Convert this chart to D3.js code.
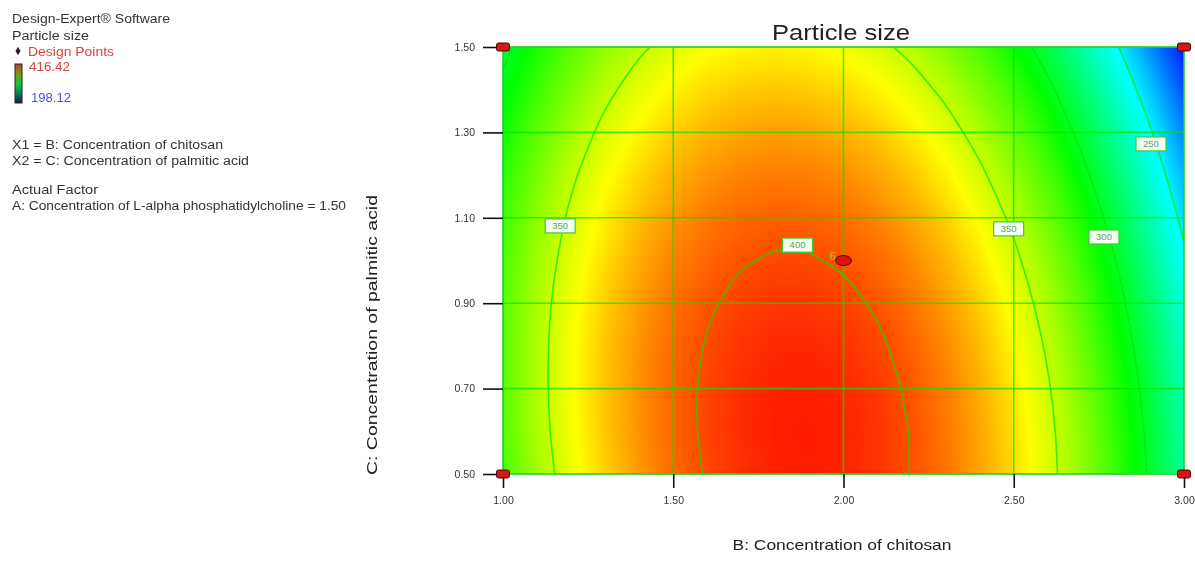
<!DOCTYPE html>
<html>
<head>
<meta charset="utf-8">
<script src="https://cdn.jsdelivr.net/npm/d3@7"></script>
<style>
  html, body { margin: 0; padding: 0; background: #fff; }
  #chart { position: relative; width: 1195px; height: 565px; overflow: hidden; background: #fff; }
  #chart canvas, #chart svg { position: absolute; left: 0; top: 0; }
</style>
</head>
<body>
<div id="chart"></div>
<script>
// ---- Data -------------------------------------------------------------
// Factor levels of the prediction grid
const chitosanLevels = [1.0, 1.1, 1.2, 1.3, 1.4, 1.5, 1.6, 1.7, 1.8, 1.9, 2.0,
                        2.1, 2.2, 2.3, 2.4, 2.5, 2.6, 2.7, 2.8, 2.9, 3.0];
const palmiticLevels = [0.5, 0.6, 0.7, 0.8, 0.9, 1.0, 1.1, 1.2, 1.3, 1.4, 1.5];

// Predicted particle size, one row per palmitic acid level (0.50 → 1.50),
// one value per chitosan level (1.00 → 3.00)
const particleSize = [
  [323.1, 341.6, 357.8, 371.9, 383.8, 393.5, 401.0, 406.2, 409.3, 410.2, 408.9, 405.4, 399.6, 391.7, 381.6, 369.3, 354.8, 338.0, 319.1, 298.0, 274.7],
  [325.5, 343.8, 359.8, 373.7, 385.3, 394.8, 402.1, 407.1, 410.0, 410.6, 409.1, 405.4, 399.4, 391.3, 380.9, 368.4, 353.7, 336.7, 317.6, 296.2, 272.7],
  [326.8, 344.8, 360.6, 374.3, 385.7, 395.0, 402.0, 406.8, 409.5, 409.9, 408.2, 404.2, 398.0, 389.7, 379.1, 366.4, 351.4, 334.2, 314.9, 293.3, 269.6],
  [326.9, 344.7, 360.3, 373.7, 385.0, 394.0, 400.8, 405.4, 407.8, 408.1, 406.1, 401.9, 395.5, 386.9, 376.2, 363.2, 348.0, 330.6, 311.0, 289.3, 265.3],
  [325.9, 343.5, 358.9, 372.1, 383.1, 391.9, 398.5, 402.9, 405.1, 405.1, 402.9, 398.5, 391.9, 383.1, 372.1, 358.9, 343.5, 325.9, 306.1, 284.1, 259.9],
  [323.7, 341.1, 356.2, 369.2, 380.0, 388.6, 395.0, 399.1, 401.1, 400.9, 398.5, 393.9, 387.0, 378.0, 366.8, 353.4, 337.8, 319.9, 299.9, 277.7, 253.3],
  [320.4, 337.5, 352.5, 365.3, 375.8, 384.2, 390.3, 394.3, 396.1, 395.6, 393.0, 388.1, 381.1, 371.9, 360.4, 346.8, 330.9, 312.9, 292.7, 270.2, 245.6],
  [315.9, 332.9, 347.6, 360.1, 370.5, 378.6, 384.6, 388.3, 389.8, 389.2, 386.3, 381.3, 374.0, 364.5, 352.9, 339.0, 323.0, 304.7, 284.2, 261.6, 236.7],
  [310.3, 327.0, 341.5, 353.9, 364.0, 371.9, 377.6, 381.1, 382.5, 381.6, 378.5, 373.2, 365.7, 356.1, 344.2, 330.1, 313.8, 295.3, 274.7, 251.8, 226.7],
  [303.6, 320.1, 334.4, 346.5, 356.4, 364.1, 369.6, 372.9, 374.0, 372.9, 369.6, 364.1, 356.4, 346.5, 334.4, 320.1, 303.6, 284.9, 264.0, 240.9, 215.6],
  [295.7, 311.9, 326.0, 337.9, 347.6, 355.1, 360.3, 363.4, 364.3, 363.0, 359.5, 353.7, 345.8, 335.7, 323.4, 308.9, 292.1, 273.2, 252.1, 228.8, 203.3]
];

const responseRange = [198.12, 416.42];
const contourLevels = [250, 300, 350, 400];
// Where each contour value is printed (chitosan, palmitic acid)
const contourLabels = [
  { level: 350, b: 1.168, c: 1.081 },
  { level: 400, b: 1.865, c: 1.036 },
  { level: 350, b: 2.485, c: 1.074 },
  { level: 300, b: 2.765, c: 1.055 },
  { level: 250, b: 2.903, c: 1.273 }
];
// Design points (factorial corners and replicated centre point)
const designPoints = [
  { b: 1.0, c: 1.5, reps: 1 },
  { b: 3.0, c: 1.5, reps: 1 },
  { b: 1.0, c: 0.5, reps: 1 },
  { b: 3.0, c: 0.5, reps: 1 },
  { b: 2.0, c: 1.0, reps: 6 }
];
const xTicks = [1.0, 1.5, 2.0, 2.5, 3.0];
const yTicks = [0.5, 0.7, 0.9, 1.1, 1.3, 1.5];

const legendLines = [
  "X1 = B: Concentration of chitosan",
  "X2 = C: Concentration of palmitic acid"
];

// ---- Layout -----------------------------------------------------------
const W = 1195, H = 565;
const plot = { left: 503, top: 47, right: 1184, bottom: 474 };

const x = d3.scaleLinear().domain(d3.extent(chitosanLevels)).range([plot.left, plot.right]);
const y = d3.scaleLinear().domain(d3.extent(palmiticLevels)).range([plot.bottom, plot.top]);

const [lo, hi] = responseRange;
const color = d3.scaleLinear()
  .domain(d3.range(5).map(i => lo + i * (hi - lo) / 4))
  .range(["#0000ff", "#00ffff", "#00ff00", "#ffff00", "#ff0000"])
  .clamp(true);

const nB = chitosanLevels.length, nC = palmiticLevels.length;
const colIndex = d3.scaleLinear().domain(d3.extent(chitosanLevels)).range([0, nB - 1]).clamp(true);
const rowIndex = d3.scaleLinear().domain(d3.extent(palmiticLevels)).range([0, nC - 1]).clamp(true);

function surfaceAt(b, c) {
  const fi = colIndex(b), fj = rowIndex(c);
  const i0 = Math.min(Math.floor(fi), nB - 2), j0 = Math.min(Math.floor(fj), nC - 2);
  const tx = fi - i0, ty = fj - j0;
  const r0 = particleSize[j0], r1 = particleSize[j0 + 1];
  const a = r0[i0] * (1 - tx) + r0[i0 + 1] * tx;
  const d = r1[i0] * (1 - tx) + r1[i0 + 1] * tx;
  return a * (1 - ty) + d * ty;
}

const root = d3.select("#chart");

// ---- Shaded response surface ------------------------------------------
const canvas = root.append("canvas").attr("width", W).attr("height", H).node();
const ctx = canvas.getContext("2d");
const pw = plot.right - plot.left, ph = plot.bottom - plot.top;
const image = ctx.createImageData(pw, ph);
for (let py = 0; py < ph; py++) {
  const c = y.invert(plot.top + py + 0.5);
  for (let px = 0; px < pw; px++) {
    const b = x.invert(plot.left + px + 0.5);
    const rgb = d3.rgb(color(surfaceAt(b, c)));
    const k = (py * pw + px) * 4;
    image.data[k] = rgb.r; image.data[k + 1] = rgb.g; image.data[k + 2] = rgb.b; image.data[k + 3] = 255;
  }
}
ctx.putImageData(image, plot.left, plot.top);

// ---- Vector layer ------------------------------------------------------
const svg = root.append("svg").attr("width", W).attr("height", H)
  .style("font-family", "'Liberation Sans', Arial, sans-serif");

svg.append("defs").append("clipPath").attr("id", "plot-clip")
  .append("rect")
  .attr("x", plot.left).attr("y", plot.top).attr("width", pw).attr("height", ph);

const lineGreen = "#00e400";

// grid lines
const grid = svg.append("g").attr("stroke", lineGreen).attr("stroke-opacity", 0.7).attr("stroke-width", 1.6);
grid.selectAll("line.gx").data(xTicks.slice(1, -1)).join("line")
  .attr("x1", d => x(d)).attr("x2", d => x(d)).attr("y1", plot.top).attr("y2", plot.bottom);
grid.selectAll("line.gy").data(yTicks.slice(1, -1)).join("line")
  .attr("y1", d => y(d)).attr("y2", d => y(d)).attr("x1", plot.left).attr("x2", plot.right);

// contour lines
const flat = [];
for (let j = nC - 1; j >= 0; j--) for (let i = 0; i < nB; i++) flat.push(particleSize[j][i]);
const contours = d3.contours().size([nB, nC]).thresholds(contourLevels)(flat);
const uToB = d3.scaleLinear().domain([0.5, nB - 0.5]).range(d3.extent(chitosanLevels));
const vToC = d3.scaleLinear().domain([0.5, nC - 0.5]).range([d3.max(palmiticLevels), d3.min(palmiticLevels)]);

function interiorRuns(ring) {
  const pts = ring.slice(0, -1);
  const eps = 1e-9;
  const inside = p => p[0] > eps && p[0] < nB - eps && p[1] > eps && p[1] < nC - eps;
  const k = pts.findIndex(p => !inside(p));
  if (k < 0) return [{ closed: true, pts }];
  const rot = pts.slice(k).concat(pts.slice(0, k));
  const runs = [];
  let cur = [];
  rot.forEach(p => {
    if (inside(p)) cur.push(p);
    else { if (cur.length > 1) runs.push({ closed: false, pts: cur }); cur = []; }
  });
  if (cur.length > 1) runs.push({ closed: false, pts: cur });
  return runs;
}

const openLine = d3.line().curve(d3.curveCatmullRom.alpha(0.5));
const closedLine = d3.line().curve(d3.curveCatmullRomClosed.alpha(0.5));
const contourG = svg.append("g").attr("clip-path", "url(#plot-clip)")
  .attr("fill", "none").attr("stroke", lineGreen).attr("stroke-opacity", 0.7).attr("stroke-width", 1.6);
contours.forEach(ct => {
  ct.coordinates.forEach(polygon => polygon.forEach(ring => {
    interiorRuns(ring).forEach(run => {
      const pix = run.pts.map(p => [x(uToB(p[0])), y(vToC(p[1]))]);
      contourG.append("path").attr("d", (run.closed ? closedLine : openLine)(pix));
    });
  }));
});

// plot frame
svg.append("rect")
  .attr("x", plot.left).attr("y", plot.top).attr("width", pw).attr("height", ph)
  .attr("fill", "none").attr("stroke", "#22d022").attr("stroke-width", 1.6);

// contour value labels
const labelG = svg.append("g").selectAll("g").data(contourLabels).join("g")
  .attr("transform", d => `translate(${x(d.b)},${y(d.c)})`);
labelG.append("rect").attr("x", -15).attr("y", -7).attr("width", 30).attr("height", 14)
  .attr("fill", "#f4fff4").attr("stroke", "#3ccc3c").attr("stroke-width", 1.2);
labelG.append("text").attr("text-anchor", "middle").attr("dy", "0.35em")
  .attr("font-size", 9.5).attr("fill", "#6c9c6c").text(d => d.level);

// axes
const yAxis = svg.append("g").attr("transform", `translate(${plot.left},0)`)
  .call(d3.axisLeft(y).tickValues(yTicks).tickFormat(d3.format(".2f")).tickSize(20).tickPadding(8));
const xAxis = svg.append("g").attr("transform", `translate(0,${plot.bottom})`)
  .call(d3.axisBottom(x).tickValues(xTicks).tickFormat(d3.format(".2f")).tickSize(14).tickPadding(9));
[yAxis, xAxis].forEach(ax => {
  ax.select(".domain").remove();
  ax.selectAll(".tick line").attr("stroke", "#111").attr("stroke-width", 1.6);
  ax.selectAll(".tick text").attr("fill", "#333").attr("font-size", 10.5)
    .attr("font-family", "'Liberation Sans', Arial, sans-serif");
});

// design points
const pts = svg.append("g").selectAll("g").data(designPoints).join("g")
  .attr("transform", d => `translate(${x(d.b)},${y(d.c)})`);
pts.filter(d => d.reps === 1).append("rect")
  .attr("x", -6.5).attr("y", -4).attr("width", 13).attr("height", 8).attr("rx", 2)
  .attr("fill", "#d01818").attr("stroke", "#5a0000").attr("stroke-width", 1);
pts.filter(d => d.reps > 1).append("ellipse")
  .attr("rx", 8).attr("ry", 5)
  .attr("fill", "#e01010").attr("stroke", "#500000").attr("stroke-width", 1);
pts.filter(d => d.reps > 1).append("text")
  .attr("x", -14).attr("y", -1).attr("font-size", 11).attr("fill", "#a8c83c")
  .text(d => d.reps);

// titles
svg.append("text").attr("x", 841).attr("y", 40).attr("text-anchor", "middle")
  .attr("font-size", 22).attr("fill", "#222")
  .attr("textLength", 138).attr("lengthAdjust", "spacingAndGlyphs")
  .text("Particle size");
svg.append("text").attr("x", 842).attr("y", 550).attr("text-anchor", "middle")
  .attr("font-size", 15).attr("fill", "#222")
  .attr("textLength", 219).attr("lengthAdjust", "spacingAndGlyphs")
  .text("B: Concentration of chitosan");
svg.append("text").attr("transform", "translate(377,335) rotate(-90)").attr("text-anchor", "middle")
  .attr("font-size", 15).attr("fill", "#222")
  .attr("textLength", 280).attr("lengthAdjust", "spacingAndGlyphs")
  .text("C: Concentration of palmitic acid");

// ---- Side legend --------------------------------------------------------
const leg = svg.append("g").attr("font-size", 12).attr("fill", "#333");
function legText(str, xPos, yPos, len, fill) {
  leg.append("text").attr("x", xPos).attr("y", yPos)
    .attr("textLength", len).attr("lengthAdjust", "spacingAndGlyphs")
    .attr("fill", fill || "#333").text(str);
}
legText("Design-Expert\u00AE Software", 12, 23, 158);
legText("Particle size", 12, 40, 77);
leg.append("path").attr("d", d3.symbol(d3.symbolDiamond, 22)()).attr("transform", "translate(18,51)")
  .attr("fill", "#222");
legText("Design Points", 28, 56, 86, "#e04040");
legText(d3.format(".2f")(hi), 29, 71, 41, "#e04040");
legText(d3.format(".2f")(lo), 31, 102, 40, "#5050e0");

const grad = svg.select("defs").append("linearGradient").attr("id", "bar-grad")
  .attr("x1", 0).attr("y1", 0).attr("x2", 0).attr("y2", 1);
[["0%", "#b04a18"], ["28%", "#70a020"], ["52%", "#10c830"], ["78%", "#107060"], ["100%", "#10205a"]]
  .forEach(([o, c]) => grad.append("stop").attr("offset", o).attr("stop-color", c));
leg.append("rect").attr("x", 15).attr("y", 64).attr("width", 7).attr("height", 39)
  .attr("fill", "url(#bar-grad)").attr("stroke", "#222").attr("stroke-width", 1);

legText(legendLines[0], 12, 149, 211);
legText(legendLines[1], 12, 165, 237);
legText("Actual Factor", 12, 194, 86);
legText("A: Concentration of L-alpha phosphatidylcholine = 1.50", 12, 210, 334);
</script>
</body>
</html>
